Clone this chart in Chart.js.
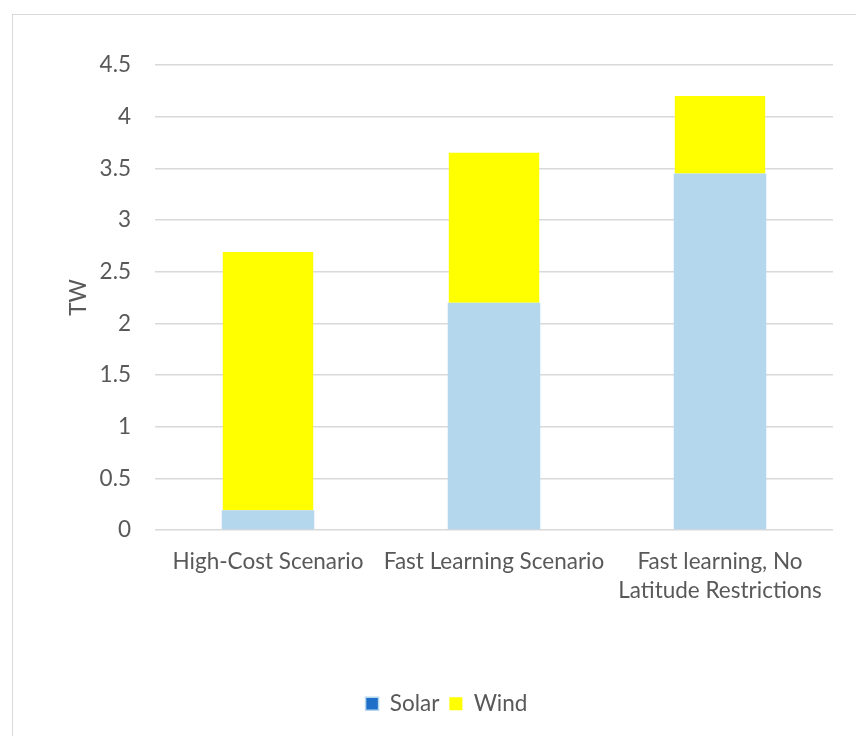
<!DOCTYPE html>
<html>
<head>
<meta charset="utf-8">
<script src="https://cdn.jsdelivr.net/npm/chart.js@4/dist/chart.umd.min.js"></script>
<style>
  html, body { margin: 0; padding: 0; background: #fff; }
  #wrap { position: relative; width: 856px; height: 736px; overflow: hidden; }
  #frame { position: absolute; left: 12px; top: 14px; width: 900px; height: 800px;
           border-left: 1.5px solid #D9D9D9; border-top: 1.5px solid #D9D9D9; box-sizing: border-box; }
  #c { position: absolute; left: 0; top: 0; }
</style>
</head>
<body>
<div id="wrap">
  <div id="frame"></div>
  <canvas id="c" width="856" height="736"></canvas>
</div>
<script>
// Installed capacity by scenario (TW)
const scenarios = [
  'High-Cost Scenario',
  'Fast Learning Scenario',
  ['Fast learning, No', 'Latitude Restrictions']
];
const solar = [0.19, 2.2, 3.45];
const wind = [2.5, 1.45, 0.75];
const yTicks = [0, 0.5, 1, 1.5, 2, 2.5, 3, 3.5, 4, 4.5];

const textColor = '#595959';
const gridColor = '#D9D9D9';
const font = { family: 'Lato, "Open Sans", sans-serif', size: 22.5, lineHeight: 1.3 };

// Nudge the bottom legend so it sits under the middle of the plot
const legendShift = {
  id: 'legendShift',
  afterLayout(chart) {
    const lg = chart.legend;
    if (lg) { lg.left += 30; lg.right += 30; }
  }
};

new Chart(document.getElementById('c'), {
  type: 'bar',
  data: {
    labels: scenarios,
    datasets: [
      { label: 'Solar', data: solar, backgroundColor: '#B4D7EE', barPercentage: 0.512, categoryPercentage: 0.8 },
      { label: 'Wind', data: wind, backgroundColor: '#FFFF00', barPercentage: 0.5, categoryPercentage: 0.8 }
    ]
  },
  plugins: [legendShift],
  options: {
    responsive: false,
    animation: false,
    layout: { padding: { top: 65, right: 23, bottom: 11, left: 0 } },
    plugins: {
      tooltip: { enabled: false },
      legend: {
        position: 'bottom',
        labels: {
          color: textColor,
          font: font,
          boxWidth: 13,
          boxHeight: 13,
          padding: 10,
          generateLabels(chart) {
            const items = Chart.defaults.plugins.legend.labels.generateLabels(chart);
            items.forEach(it => {
              if (it.text === 'Solar') { it.fillStyle = '#1F6FC8'; it.strokeStyle = '#B4D7EE'; it.lineWidth = 1.5; }
              else { it.strokeStyle = '#FFFF00'; it.lineWidth = 0; }
            });
            return items;
          }
        }
      }
    },
    scales: {
      x: {
        stacked: true,
        grid: { display: false, drawTicks: false },
        border: { display: false },
        ticks: { color: textColor, font: font, maxRotation: 0, autoSkip: false, padding: 17 },
        afterFit(scale) { scale.height = 152.5; }
      },
      y: {
        stacked: true,
        min: 0,
        max: 4.5,
        afterBuildTicks(scale) { scale.ticks = yTicks.map(v => ({ value: v })); },
        grid: { color: gridColor, lineWidth: 1.5, drawTicks: false },
        border: { display: false },
        ticks: { color: textColor, font: font, padding: 24, callback: v => String(v) },
        title: { display: true, text: 'TW', color: textColor, font: font, padding: { top: 64, bottom: 0 } },
        afterFit(scale) { scale.width = 155; }
      }
    }
  }
});
</script>
</body>
</html>
